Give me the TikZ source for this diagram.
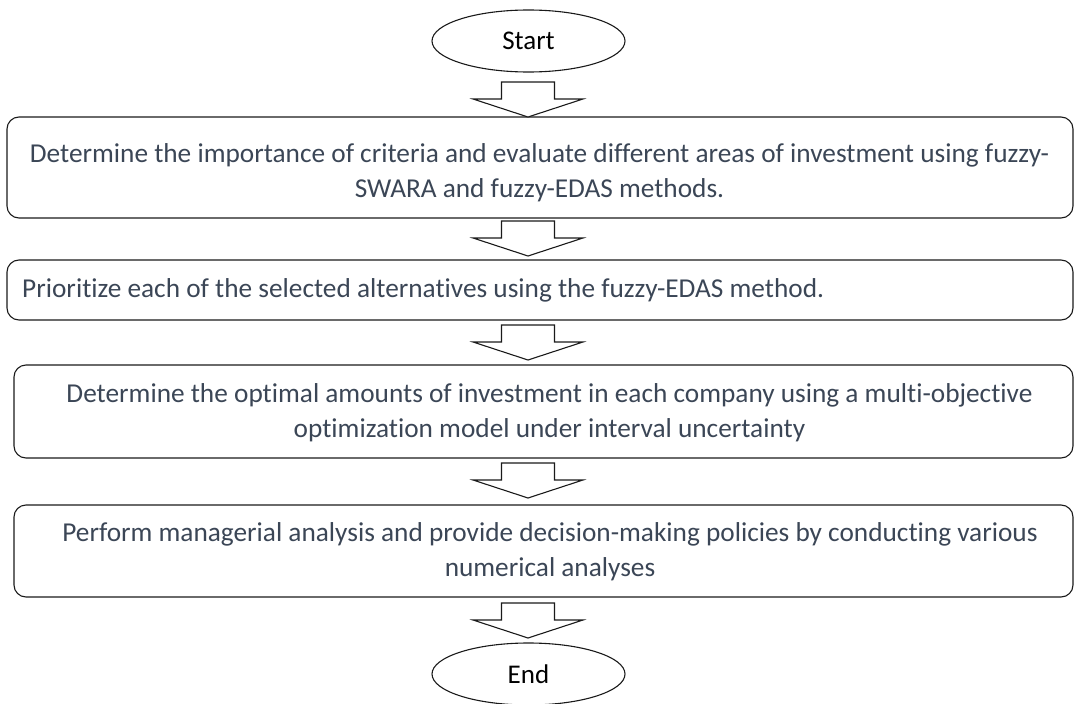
\documentclass[tikz,border=0pt]{standalone}
\usepackage{fontspec}
\setmainfont{Carlito}[Ligatures=NoCommon]
\usetikzlibrary{shapes.geometric}
\definecolor{txt}{HTML}{3B4656}
\definecolor{edge}{HTML}{1A1A1A}
\tikzset{
  term/.style={ellipse, draw=edge, line width=1.1pt, minimum width=193pt, minimum height=62pt, inner sep=0pt,
    font=\fontsize{27}{32}\selectfont, text=black},
  stepbox/.style={draw=edge, line width=1.1pt, rounded corners=12pt, inner sep=0pt},
  steptext/.style={font=\fontsize{27.3}{35}\selectfont, text=txt, align=center, inner sep=0pt},
  blockarr/.pic={\draw[draw=edge, line width=1.1pt, fill=white, line join=miter]
     (-26.5,0) -- (26.5,0) -- (26.5,17) -- (55,17) -- (0,35) -- (-55,17) -- (-26.5,17) -- cycle;}
}
\begin{document}
\begin{tikzpicture}[x=1pt,y=-1pt]
\useasboundingbox (0,0) rectangle (1074,704);
\node[term] (start) at (528.5,41) {Start};
\node[stepbox, minimum width=1066pt, minimum height=101pt] (b1) at (540,167.5) {};
\node[steptext] (t1) at (539.5,173) {Determine the importance of criteria and evaluate different areas of investment using fuzzy-\\SWARA and fuzzy-EDAS methods.};
\node[stepbox, minimum width=1066pt, minimum height=60pt] (b2) at (540,290) {};
\node[steptext, anchor=west] (t2) at (22,290) {Prioritize each of the selected alternatives using the fuzzy-EDAS method.};
\node[stepbox, minimum width=1059pt, minimum height=93pt] (b3) at (543.5,411.5) {};
\node[steptext] (t3) at (549.5,413) {Determine the optimal amounts of investment in each company using a multi-objective\\optimization model under interval uncertainty};
\node[stepbox, minimum width=1059pt, minimum height=92pt] (b4) at (543.5,551) {};
\node[steptext] (t4) at (550,552) {Perform managerial analysis and provide decision-making policies by conducting various\\numerical analyses};
\node[term] (end) at (528.5,674) {End};
\coordinate (a1) at (528,82);
\coordinate (a2) at (528,221);
\coordinate (a3) at (528,325);
\coordinate (a4) at (528,463);
\coordinate (a5) at (528,603);
\pic at (a1) {blockarr};
\pic at (a2) {blockarr};
\pic at (a3) {blockarr};
\pic at (a4) {blockarr};
\pic at (a5) {blockarr};
\end{tikzpicture}
\end{document}
